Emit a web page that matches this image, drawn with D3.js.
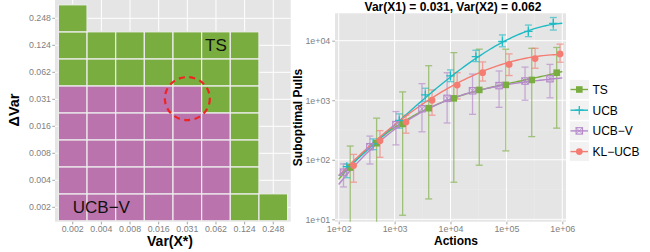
<!DOCTYPE html>
<html>
<head>
<meta charset="utf-8">
<script src="https://cdn.jsdelivr.net/npm/d3@7"></script>
<style>
  body { margin: 0; background: #fff; }
  svg { display: block; font-family: "Liberation Sans", Arial, sans-serif; }
</style>
</head>
<body>
<div id="chart"></div>
<script>
// ---- left panel data: which policy wins per (Var(X*), ΔVar) cell ----
const varLevels = ["0.002", "0.004", "0.008", "0.016", "0.031", "0.062", "0.124", "0.248"];
// one string per ΔVar level (0.002 first), one char per Var(X*) level. U = UCB-V, T = TS, . = none
const winners = [
  "UUUUUUTT",
  "UUUUUUT.",
  "UUUUUUT.",
  "UUUUUUT.",
  "UUUUUTT.",
  "TTTTTTT.",
  "TTTTTTT.",
  "T......."
];

// ---- right panel data ----
const actions = [150, 445, 1300, 3800, 10700, 30500, 91000, 265000, 740000];
const seriesNames = ["TS", "UCB", "UCB\u2212V", "KL\u2212UCB"];

const tsMean = [74, 190, 400, 735, 1075, 1490, 1810, 2190, 2900];
const tsLow  = [1, 1, 11.7, 22, 42, 81, 141, 245, 340];
const tsHigh = [170, 500, 1380, 3800, 6300, 7200, 7200, 7450, 7700];

const ucbMean = [77, 185, 457, 1230, 2570, 5400, 9700, 14300, 19600];
const ucbLow  = [50, 148, 340, 960, 2050, 4450, 7900, 11700, 15100];
const ucbHigh = [85, 224, 590, 1590, 3230, 6900, 12500, 18300, 24500];

const ucbvMean = [62, 166, 390, 720, 1075, 1440, 1760, 2100, 2300];
const ucbvLow  = [35, 85, 178, 295, 415, 580, 760, 1000, 1100];
const ucbvHigh = [85, 250, 645, 1900, 2900, 2750, 3100, 3600, 4000];

const klMean = [80, 209, 430, 1000, 1800, 2900, 4000, 5000, 6000];
const klLow  = [42, 110, 280, 560, 1050, 2100, 2600, 3450, 4350];
const klHigh = [123, 309, 560, 1490, 2900, 4400, 6000, 7450, 8750];

const xTicks = [1e2, 1e3, 1e4, 1e5, 1e6];
const yTicks = [1e1, 1e2, 1e3, 1e4];

// ---- styling ----
const W = 650, H = 252;
const panelBg = "#E5E5E5";
const tickCol = "#7F7F7F";
const green = "#7AAD3F", purpleTile = "#BB73AD";
const colours = {"TS": "#7AAD3F", "UCB": "#1EBBC4", "UCB\u2212V": "#B488C9", "KL\u2212UCB": "#F47C72"};
const dodge = {"TS": 0.03, "UCB": -0.03, "UCB\u2212V": -0.09, "KL\u2212UCB": 0.09};

const svg = d3.select("#chart").append("svg").attr("width", W).attr("height", H);
svg.append("rect").attr("width", W).attr("height", H).attr("fill", "#fff");

// =============== left panel (tile map) ===============
const L = {left: 55, right: 290.7, top: 0, bottom: 221.7};
const xb = d3.scaleBand().domain(varLevels).range([58.4, 287.6]).paddingInner(0);
const yb = d3.scaleBand().domain(varLevels.slice().reverse()).range([4.8, 220.8]).paddingInner(0);

const left = svg.append("g");
left.append("rect").attr("x", L.left).attr("y", L.top)
  .attr("width", L.right - L.left).attr("height", L.bottom - L.top).attr("fill", panelBg);

// grid lines at tile centres
left.selectAll("line.gx").data(varLevels).join("line")
  .attr("x1", d => xb(d) + xb.bandwidth() / 2).attr("x2", d => xb(d) + xb.bandwidth() / 2)
  .attr("y1", L.top).attr("y2", L.bottom).attr("stroke", "#fff").attr("stroke-width", 1);
left.selectAll("line.gy").data(varLevels).join("line")
  .attr("y1", d => yb(d) + yb.bandwidth() / 2).attr("y2", d => yb(d) + yb.bandwidth() / 2)
  .attr("x1", L.left).attr("x2", L.right).attr("stroke", "#fff").attr("stroke-width", 1);

const cells = [];
winners.forEach((row, j) => {
  row.split("").forEach((c, i) => {
    if (c !== ".") cells.push({vx: varLevels[i], dv: varLevels[j], w: c});
  });
});

left.selectAll("rect.tile").data(cells).join("rect")
  .attr("x", d => xb(d.vx)).attr("y", d => yb(d.dv))
  .attr("width", xb.bandwidth()).attr("height", yb.bandwidth())
  .attr("fill", d => d.w === "T" ? green : purpleTile)
  .attr("stroke", "#EDEDED").attr("stroke-width", 1.2);

// labels in the map
left.append("text").attr("x", xb("0.062") + xb.bandwidth() / 2).attr("y", yb("0.124") + yb.bandwidth() / 2 + 6)
  .attr("text-anchor", "middle").attr("font-size", 17).attr("fill", "#111").text("TS");
left.append("text").attr("x", xb("0.004") + xb.bandwidth() / 2).attr("y", yb("0.002") + yb.bandwidth() / 2 + 6)
  .attr("text-anchor", "middle").attr("font-size", 17).attr("fill", "#111").text("UCB\u2212V");

// dashed circle around the (0.031, 0.031) cell
left.append("ellipse")
  .attr("cx", xb("0.031") + xb.bandwidth() / 2).attr("cy", yb("0.031") + yb.bandwidth() / 2 - 0.7)
  .attr("rx", 22.5).attr("ry", 21.5)
  .attr("fill", "none").attr("stroke", "#EE2424").attr("stroke-width", 2.2)
  .attr("stroke-dasharray", "6,4.5");

// left axes
const lx = left.append("g");
varLevels.forEach(v => {
  const cx = xb(v) + xb.bandwidth() / 2;
  lx.append("line").attr("x1", cx).attr("x2", cx).attr("y1", L.bottom).attr("y2", L.bottom + 2.7)
    .attr("stroke", tickCol).attr("stroke-width", 0.7);
  lx.append("text").attr("x", cx).attr("y", L.bottom + 10.5).attr("text-anchor", "middle")
    .attr("font-size", 8.8).attr("fill", tickCol).text(v);
  const cy = yb(v) + yb.bandwidth() / 2;
  lx.append("line").attr("x1", L.left - 2.7).attr("x2", L.left).attr("y1", cy).attr("y2", cy)
    .attr("stroke", tickCol).attr("stroke-width", 0.7);
  lx.append("text").attr("x", L.left - 4).attr("y", cy + 3.1).attr("text-anchor", "end")
    .attr("font-size", 8.8).attr("fill", tickCol).text(v);
});
left.append("text").attr("x", 170).attr("y", 246).attr("text-anchor", "middle")
  .attr("font-size", 14).attr("font-weight", "bold").attr("fill", "#000").text("Var(X*)");
left.append("text").attr("transform", "translate(19,110) rotate(-90)").attr("text-anchor", "middle")
  .attr("font-size", 14.5).attr("font-weight", "bold").attr("fill", "#000").text("\u0394Var");

// =============== right panel (regret curves) ===============
const R = {left: 335, right: 566, top: 13.3, bottom: 221.7};
const x = d3.scaleLog().domain([Math.pow(10, 1.934), Math.pow(10, 6.066)]).range([R.left, R.right]);
const y = d3.scaleLog().domain([Math.pow(10, 0.96), Math.pow(10, 4.46)]).range([R.bottom, R.top]);

const right = svg.append("g");
right.append("rect").attr("x", R.left).attr("y", R.top)
  .attr("width", R.right - R.left).attr("height", R.bottom - R.top).attr("fill", panelBg);

svg.append("clipPath").attr("id", "clipR").append("rect")
  .attr("x", R.left).attr("y", R.top).attr("width", R.right - R.left).attr("height", R.bottom - R.top);

// minor grid (half decades), then major grid
const minorX = xTicks.slice(0, -1).map(t => t * Math.sqrt(10));
const minorY = yTicks.slice(0, -1).map(t => t * Math.sqrt(10));
right.selectAll("line.mx").data(minorX).join("line")
  .attr("x1", d => x(d)).attr("x2", d => x(d)).attr("y1", R.top).attr("y2", R.bottom)
  .attr("stroke", "#EDEDED").attr("stroke-width", 0.5);
right.selectAll("line.my").data(minorY).join("line")
  .attr("y1", d => y(d)).attr("y2", d => y(d)).attr("x1", R.left).attr("x2", R.right)
  .attr("stroke", "#EDEDED").attr("stroke-width", 0.5);
right.selectAll("line.gx").data(xTicks).join("line")
  .attr("x1", d => x(d)).attr("x2", d => x(d)).attr("y1", R.top).attr("y2", R.bottom)
  .attr("stroke", "#fff").attr("stroke-width", 1);
right.selectAll("line.gy").data(yTicks).join("line")
  .attr("y1", d => y(d)).attr("y2", d => y(d)).attr("x1", R.left).attr("x2", R.right)
  .attr("stroke", "#fff").attr("stroke-width", 1);

const fmt = v => "1e+" + String(Math.round(Math.log10(v))).padStart(2, "0");

const xAxis = right.append("g").attr("transform", `translate(0,${R.bottom})`)
  .call(d3.axisBottom(x).tickValues(xTicks).tickFormat(fmt).tickSize(2.7).tickPadding(1.5));
const yAxis = right.append("g").attr("transform", `translate(${R.left},0)`)
  .call(d3.axisLeft(y).tickValues(yTicks).tickFormat(fmt).tickSize(2.7).tickPadding(2));
[xAxis, yAxis].forEach(a => {
  a.select(".domain").remove();
  a.selectAll("line").attr("stroke", tickCol).attr("stroke-width", 0.7);
  a.selectAll("text").attr("fill", tickCol).attr("font-size", 8.9)
    .attr("font-family", "Liberation Sans, Arial, sans-serif");
});

right.append("text").attr("x", 453).attr("y", 11).attr("text-anchor", "middle")
  .attr("font-size", 12).attr("font-weight", "bold").text("Var(X1) = 0.031, Var(X2) = 0.062");
right.append("text").attr("x", 456).attr("y", 245).attr("text-anchor", "middle")
  .attr("font-size", 12).attr("font-weight", "bold").text("Actions");
right.append("text").attr("transform", "translate(302,117.5) rotate(-90)").attr("text-anchor", "middle")
  .attr("font-size", 12).attr("font-weight", "bold").text("Suboptimal Pulls");

// cubic fit in log-log space (smoother through the means)
function polyfit(xs, ys, deg) {
  const n = deg + 1;
  const A = Array.from({length: n}, () => new Array(n + 1).fill(0));
  xs.forEach((xv, k) => {
    for (let i = 0; i < n; i++) {
      for (let j = 0; j < n; j++) A[i][j] += Math.pow(xv, i + j);
      A[i][n] += ys[k] * Math.pow(xv, i);
    }
  });
  for (let i = 0; i < n; i++) {
    let p = i;
    for (let r = i + 1; r < n; r++) if (Math.abs(A[r][i]) > Math.abs(A[p][i])) p = r;
    [A[i], A[p]] = [A[p], A[i]];
    for (let r = 0; r < n; r++) {
      if (r === i) continue;
      const f = A[r][i] / A[i][i];
      for (let c = i; c <= n; c++) A[r][c] -= f * A[i][c];
    }
  }
  const coef = A.map((row, i) => row[n] / row[i]);
  return xv => coef.reduce((s, c, i) => s + c * Math.pow(xv, i), 0);
}

const series = [
  {name: "TS", mean: tsMean, low: tsLow, high: tsHigh},
  {name: "UCB", mean: ucbMean, low: ucbLow, high: ucbHigh},
  {name: "UCB\u2212V", mean: ucbvMean, low: ucbvLow, high: ucbvHigh},
  {name: "KL\u2212UCB", mean: klMean, low: klLow, high: klHigh}
];

const plot = right.append("g").attr("clip-path", "url(#clipR)");
const lineGen = d3.line().x(d => x(d[0])).y(d => y(d[1]));
const grid = d3.range(0, 81).map(i => 2 + i * 0.05);

// error bars first
series.forEach(s => {
  const col = colours[s.name];
  const pts = actions.map((a, i) => ({
    xa: a * Math.pow(10, dodge[s.name]), lo: s.low[i], hi: s.high[i]
  }));
  const g = plot.append("g").attr("stroke", col).attr("stroke-width", 1.3).attr("opacity", 0.65);
  pts.forEach(p => {
    const px = x(p.xa);
    g.append("line").attr("x1", px).attr("x2", px).attr("y1", y(p.lo)).attr("y2", y(p.hi));
    g.append("line").attr("x1", px - 3.5).attr("x2", px + 3.5).attr("y1", y(p.hi)).attr("y2", y(p.hi));
    g.append("line").attr("x1", px - 3.5).attr("x2", px + 3.5).attr("y1", y(p.lo)).attr("y2", y(p.lo));
  });
});

// smooth lines
series.forEach(s => {
  const f = polyfit(actions.map(a => Math.log10(a)), s.mean.map(v => Math.log10(v)), 3);
  const pts = grid.map(lx => [Math.pow(10, lx), Math.pow(10, f(lx))]);
  plot.append("path").attr("d", lineGen(pts)).attr("fill", "none")
    .attr("stroke", colours[s.name]).attr("stroke-width", 1.4);
});

function marker(g, name, cx, cy) {
  const col = colours[name];
  if (name === "TS") {
    g.append("rect").attr("x", cx - 3.3).attr("y", cy - 3.3).attr("width", 6.6).attr("height", 6.6).attr("fill", col);
  } else if (name === "UCB") {
    g.append("path").attr("d", `M${cx - 4.2},${cy}H${cx + 4.2}M${cx},${cy - 4.2}V${cy + 4.2}`)
      .attr("stroke", col).attr("stroke-width", 1.3).attr("fill", "none");
  } else if (name === "UCB\u2212V") {
    g.append("rect").attr("x", cx - 3.2).attr("y", cy - 3.2).attr("width", 6.4).attr("height", 6.4)
      .attr("fill", "none").attr("stroke", col).attr("stroke-width", 1.1);
    g.append("path").attr("d", `M${cx - 3.2},${cy - 3.2}L${cx + 3.2},${cy + 3.2}M${cx + 3.2},${cy - 3.2}L${cx - 3.2},${cy + 3.2}`)
      .attr("stroke", col).attr("stroke-width", 0.9);
  } else {
    g.append("circle").attr("cx", cx).attr("cy", cy).attr("r", 3.4).attr("fill", col);
  }
}

// points
series.forEach(s => {
  const g = plot.append("g");
  actions.forEach((a, i) => marker(g, s.name, x(a * Math.pow(10, dodge[s.name])), y(s.mean[i])));
});

// legend
const legend = right.append("g");
seriesNames.forEach((name, i) => {
  const cy = 89.5 + i * 20.7;
  legend.append("rect").attr("x", 569.3).attr("y", cy - 10).attr("width", 20).attr("height", 20)
    .attr("fill", "#F2F2F2").attr("stroke", "#fff").attr("stroke-width", 0.8);
  legend.append("line").attr("x1", 570.5).attr("x2", 588).attr("y1", cy).attr("y2", cy)
    .attr("stroke", colours[name]).attr("stroke-width", 1.4);
  marker(legend, name, 579.3, cy);
  legend.append("text").attr("x", 592.5).attr("y", cy + 4.3).attr("font-size", 12).attr("fill", "#000").text(name);
});
</script>
</body>
</html>
